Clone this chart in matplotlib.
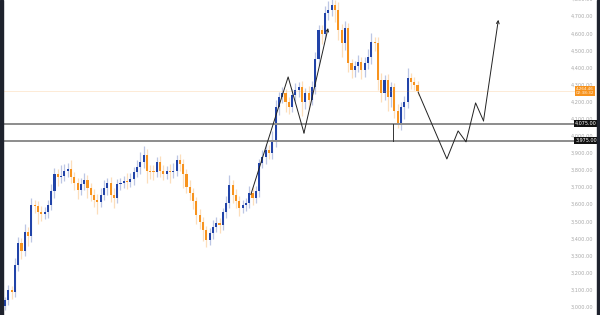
import matplotlib
matplotlib.use('Agg')
import matplotlib.pyplot as plt
import numpy as np

# candle closes (open = previous close)
closes = [3043, 3100, 3090, 3250, 3376, 3330, 3440, 3420, 3600, 3590,
          3560, 3545, 3560, 3600, 3680, 3780, 3760, 3770, 3800, 3810,
          3760, 3730, 3686, 3720, 3745, 3700, 3660, 3630, 3616, 3660,
          3700, 3727, 3660, 3639, 3720, 3730, 3740, 3735, 3750, 3790,
          3820, 3850, 3891, 3800, 3792, 3790, 3850, 3800, 3780, 3800,
          3790, 3800, 3862, 3840, 3780, 3704, 3670, 3620, 3540, 3500,
          3450, 3394, 3435, 3470, 3493, 3480, 3557, 3610, 3715, 3660,
          3620, 3581, 3600, 3610, 3669, 3640, 3680, 3844, 3880, 3920,
          3900, 3979, 4172, 4230, 4253, 4200, 4172, 4240, 4270, 4289,
          4200, 4253, 4213, 4289, 4450, 4622, 4600, 4722, 4740, 4768,
          4739, 4622, 4546, 4634, 4429, 4388, 4410, 4435, 4388, 4430,
          4464, 4552, 4546, 4330, 4253, 4330, 4230, 4289, 4150, 4078,
          4172, 4200, 4341, 4320, 4300, 4264.46]
first_open = 3010
wick_up = [20, 30, 25, 40, 35, 30, 45, 30, 40, 25,
           30, 35, 25, 30, 40, 35, 30, 60, 40, 35,
           50, 30, 25, 35, 40, 30, 25, 30, 35, 40,
           45, 30, 35, 40, 30, 25, 30, 45, 35, 30,
           40, 60, 50, 35, 30, 40, 30, 35, 30, 25,
           40, 45, 30, 35, 25, 30, 40, 30, 25, 35,
           30, 25, 30, 40, 35, 30, 25, 40, 60, 30,
           35, 30, 25, 30, 40, 35, 30, 25, 40, 35,
           30, 50, 40, 30, 35, 25, 30, 40, 45, 30,
           35, 30, 40, 35, 45, 30, 30, 40, 50, 40,
           30, 45, 35, 40, 30, 25, 30, 40, 30, 35,
           45, 50, 30, 35, 40, 30, 35, 30, 25, 40,
           30, 35, 60, 30, 30, 25]
wick_dn = [25, 30, 40, 30, 35, 45, 30, 60, 35, 40,
           70, 40, 30, 35, 30, 40, 50, 35, 30, 40,
           35, 45, 50, 30, 35, 60, 40, 45, 70, 30,
           35, 40, 45, 60, 30, 35, 30, 40, 30, 35,
           30, 40, 35, 70, 40, 45, 30, 40, 35, 30,
           60, 35, 30, 40, 80, 35, 40, 45, 50, 40,
           60, 40, 30, 35, 30, 45, 30, 35, 30, 50,
           40, 45, 30, 35, 30, 40, 30, 35, 30, 40,
           35, 30, 40, 45, 35, 60, 40, 30, 35, 40,
           80, 40, 50, 30, 40, 35, 60, 30, 40, 35,
           70, 60, 80, 40, 50, 45, 40, 35, 50, 40,
           35, 40, 45, 60, 50, 40, 80, 60, 40, 30,
           40, 70, 35, 40, 30, 25]

price_ticks = [3000, 3100, 3200, 3300, 3400, 3500, 3600, 3700, 3800, 3900,
               4000, 4100, 4200, 4300, 4400, 4500, 4600, 4700, 4800]
levels = [4075, 3975]
last_price = 4264.46
countdown = '02:38:32'

# hand drawn paths (bar index, price)
path1_x = [74.5, 85.8, 90.6, 97.9]
path1_y = [3660, 4348, 4020, 4634]
path2_x = [125.2, 133.9, 137.3, 139.7, 142.6, 145.0, 149.5]
path2_y = [4259, 3868, 4032, 3968, 4196, 4091, 4682]
vline_x = 117.5

blue = '#2143a8'
orange = '#f7931e'
ink = '#222222'

fig = plt.figure(figsize=(6, 3.15), dpi=100)
ax = fig.add_axes([0, 0, 576 / 600, 1])
ax.set_xlim(-1.515, 173.03)
ax.set_ylim(2955, 4798)
ax.axis('off')

n = len(closes)
opens = [first_open] + closes[:-1]
for i in range(n):
    o, c = opens[i], closes[i]
    col = blue if c >= o else orange
    hi = max(o, c) + wick_up[i]
    lo = min(o, c) - wick_dn[i]
    ax.plot([i, i], [lo, hi], color=col, alpha=0.3, lw=0.9, solid_capstyle='butt')
    ax.bar(i, max(abs(c - o), 5), bottom=min(o, c), width=0.66,
           color=col, linewidth=0)

# current price line
ax.axhline(last_price, color=orange, lw=0.5, alpha=0.25)

# support levels
for lv in levels:
    ax.axhline(lv, color='#8c8c8c', lw=1.4)
ax.plot([vline_x, vline_x], levels, color='#333333', lw=0.7)

# projected paths, last leg with arrow head
for px, py in [(path1_x, path1_y), (path2_x, path2_y)]:
    ax.plot(px[:-1], py[:-1], color=ink, lw=0.7)
    ax.annotate('', xy=(px[-1], py[-1]), xytext=(px[-2], py[-2]),
                arrowprops=dict(arrowstyle='->', color=ink, lw=0.7,
                                mutation_scale=5, shrinkA=0, shrinkB=0))

# right price scale
tr = ax.get_yaxis_transform()
for p in price_ticks:
    ax.text(593 / 576, p, f'{p:,.2f}', transform=tr, ha='right', va='center',
            fontsize=3.6, color='#a8a8a8', clip_on=False)

for lv in levels:
    ax.text(586 / 576, lv, f'{lv:,.2f}', transform=tr, ha='center', va='center',
            fontsize=3.5, color='white', clip_on=False,
            bbox=dict(boxstyle='square,pad=0.2', fc='#111111', ec='none'))

ax.text(585 / 576, last_price, f'{last_price:,.2f}\n{countdown}', transform=tr,
        ha='center', va='center', fontsize=3.0, color='#fff2e0', linespacing=1.0,
        clip_on=False, bbox=dict(boxstyle='square,pad=0.2', fc=orange, ec='none'))

# dark edges
fig.patches.append(plt.Rectangle((0, 0), 3 / 600, 1, transform=fig.transFigure,
                                 color='#1e222d', zorder=5))
fig.patches.append(plt.Rectangle((597 / 600, 0), 3 / 600, 1, transform=fig.transFigure,
                                 color='#1e222d', zorder=5))

fig.savefig('out.png', dpi=100)
